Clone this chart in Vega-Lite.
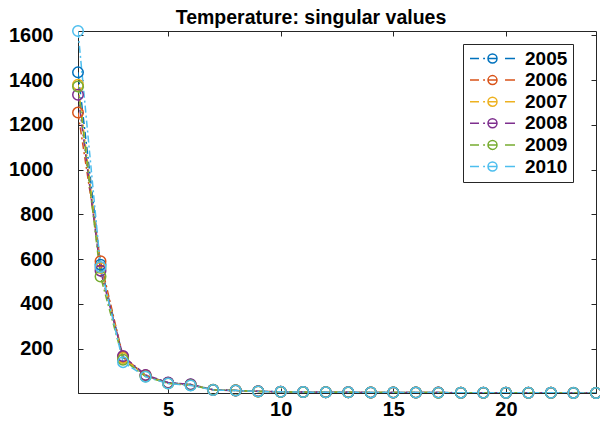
{
  "$schema": "https://vega.github.io/schema/vega-lite/v6.json",
  "width": 518,
  "height": 362,
  "autosize": {"type": "none"},
  "padding": {"left": 78, "top": 31, "right": 4, "bottom": 30},
  "background": "white",
  "config": {
    "view": {"stroke": "#262626", "strokeWidth": 1},
    "font": "Liberation Sans",
    "axis": {
      "grid": false,
      "domainColor": "#262626",
      "domainWidth": 1,
      "tickColor": "#262626",
      "tickWidth": 1,
      "tickSize": -5,
      "labelFont": "Liberation Sans",
      "labelFontSize": 20,
      "labelFontWeight": "bold",
      "labelColor": "black",
      "title": null
    }
  },
  "title": {
    "text": "Temperature: singular values",
    "font": "Liberation Sans",
    "fontSize": 19.5,
    "fontWeight": "bold",
    "color": "black",
    "anchor": "middle",
    "dx": -26,
    "offset": 6,
    "dy": 27,
    "baseline": "alphabetic"
  },
  "data": {
    "values": [
      {"x":1,"year":"2005","v":1435},{"x":2,"year":"2005","v":575},{"x":3,"year":"2005","v":160},{"x":4,"year":"2005","v":79},{"x":5,"year":"2005","v":47},{"x":6,"year":"2005","v":39},{"x":7,"year":"2005","v":16},{"x":8,"year":"2005","v":13},{"x":9,"year":"2005","v":8.5},{"x":10,"year":"2005","v":6.5},{"x":11,"year":"2005","v":5.2},{"x":12,"year":"2005","v":4.5},{"x":13,"year":"2005","v":4.0},{"x":14,"year":"2005","v":3.6},{"x":15,"year":"2005","v":3.3},{"x":16,"year":"2005","v":3.0},{"x":17,"year":"2005","v":2.8},{"x":18,"year":"2005","v":2.6},{"x":19,"year":"2005","v":2.4},{"x":20,"year":"2005","v":2.2},{"x":21,"year":"2005","v":2.0},{"x":22,"year":"2005","v":1.8},{"x":23,"year":"2005","v":1.6},{"x":24,"year":"2005","v":1.3},
      {"x":1,"year":"2006","v":1255},{"x":2,"year":"2006","v":590},{"x":3,"year":"2006","v":163},{"x":4,"year":"2006","v":80},{"x":5,"year":"2006","v":46},{"x":6,"year":"2006","v":38},{"x":7,"year":"2006","v":15},{"x":8,"year":"2006","v":12},{"x":9,"year":"2006","v":8.0},{"x":10,"year":"2006","v":6.2},{"x":11,"year":"2006","v":5.0},{"x":12,"year":"2006","v":4.4},{"x":13,"year":"2006","v":3.9},{"x":14,"year":"2006","v":3.5},{"x":15,"year":"2006","v":3.2},{"x":16,"year":"2006","v":2.9},{"x":17,"year":"2006","v":2.7},{"x":18,"year":"2006","v":2.5},{"x":19,"year":"2006","v":2.3},{"x":20,"year":"2006","v":2.1},{"x":21,"year":"2006","v":1.9},{"x":22,"year":"2006","v":1.7},{"x":23,"year":"2006","v":1.5},{"x":24,"year":"2006","v":1.2},
      {"x":1,"year":"2007","v":1380},{"x":2,"year":"2007","v":560},{"x":3,"year":"2007","v":158},{"x":4,"year":"2007","v":77},{"x":5,"year":"2007","v":45},{"x":6,"year":"2007","v":37},{"x":7,"year":"2007","v":16},{"x":8,"year":"2007","v":13},{"x":9,"year":"2007","v":8.2},{"x":10,"year":"2007","v":6.4},{"x":11,"year":"2007","v":5.1},{"x":12,"year":"2007","v":4.5},{"x":13,"year":"2007","v":4.0},{"x":14,"year":"2007","v":3.6},{"x":15,"year":"2007","v":3.2},{"x":16,"year":"2007","v":3.0},{"x":17,"year":"2007","v":2.8},{"x":18,"year":"2007","v":2.6},{"x":19,"year":"2007","v":2.3},{"x":20,"year":"2007","v":2.1},{"x":21,"year":"2007","v":1.9},{"x":22,"year":"2007","v":1.7},{"x":23,"year":"2007","v":1.5},{"x":24,"year":"2007","v":1.2},
      {"x":1,"year":"2008","v":1335},{"x":2,"year":"2008","v":548},{"x":3,"year":"2008","v":166},{"x":4,"year":"2008","v":82},{"x":5,"year":"2008","v":48},{"x":6,"year":"2008","v":40},{"x":7,"year":"2008","v":15},{"x":8,"year":"2008","v":12},{"x":9,"year":"2008","v":8.6},{"x":10,"year":"2008","v":6.6},{"x":11,"year":"2008","v":5.3},{"x":12,"year":"2008","v":4.6},{"x":13,"year":"2008","v":4.1},{"x":14,"year":"2008","v":3.7},{"x":15,"year":"2008","v":3.3},{"x":16,"year":"2008","v":3.0},{"x":17,"year":"2008","v":2.8},{"x":18,"year":"2008","v":2.5},{"x":19,"year":"2008","v":2.3},{"x":20,"year":"2008","v":2.1},{"x":21,"year":"2008","v":1.9},{"x":22,"year":"2008","v":1.7},{"x":23,"year":"2008","v":1.5},{"x":24,"year":"2008","v":1.3},
      {"x":1,"year":"2009","v":1372},{"x":2,"year":"2009","v":522},{"x":3,"year":"2009","v":150},{"x":4,"year":"2009","v":75},{"x":5,"year":"2009","v":44},{"x":6,"year":"2009","v":36},{"x":7,"year":"2009","v":15},{"x":8,"year":"2009","v":12},{"x":9,"year":"2009","v":7.8},{"x":10,"year":"2009","v":6.0},{"x":11,"year":"2009","v":4.9},{"x":12,"year":"2009","v":4.3},{"x":13,"year":"2009","v":3.8},{"x":14,"year":"2009","v":3.4},{"x":15,"year":"2009","v":3.1},{"x":16,"year":"2009","v":2.8},{"x":17,"year":"2009","v":2.6},{"x":18,"year":"2009","v":2.4},{"x":19,"year":"2009","v":2.2},{"x":20,"year":"2009","v":2.0},{"x":21,"year":"2009","v":1.8},{"x":22,"year":"2009","v":1.6},{"x":23,"year":"2009","v":1.4},{"x":24,"year":"2009","v":1.1},
      {"x":1,"year":"2010","v":1620},{"x":2,"year":"2010","v":565},{"x":3,"year":"2010","v":139},{"x":4,"year":"2010","v":74},{"x":5,"year":"2010","v":43},{"x":6,"year":"2010","v":35},{"x":7,"year":"2010","v":14},{"x":8,"year":"2010","v":12},{"x":9,"year":"2010","v":8.0},{"x":10,"year":"2010","v":6.1},{"x":11,"year":"2010","v":5.0},{"x":12,"year":"2010","v":4.4},{"x":13,"year":"2010","v":3.9},{"x":14,"year":"2010","v":3.5},{"x":15,"year":"2010","v":3.1},{"x":16,"year":"2010","v":2.9},{"x":17,"year":"2010","v":2.7},{"x":18,"year":"2010","v":2.5},{"x":19,"year":"2010","v":2.3},{"x":20,"year":"2010","v":2.1},{"x":21,"year":"2010","v":1.9},{"x":22,"year":"2010","v":1.7},{"x":23,"year":"2010","v":1.5},{"x":24,"year":"2010","v":1.0}
    ]
  },
  "encoding": {
    "x": {"field": "x", "type": "quantitative", "scale": {"domain": [1, 24], "nice": false, "zero": false}},
    "y": {"field": "v", "type": "quantitative", "scale": {"domain": [1, 1620], "nice": false, "zero": false}},
    "color": {
      "field": "year",
      "type": "nominal",
      "scale": {"domain": ["2005","2006","2007","2008","2009","2010"], "range": ["#0072BD","#D95319","#EDB120","#7E2F8E","#77AC30","#4DBEEE"]},
      "legend": {
        "title": null,
        "orient": "none",
        "legendX": 385,
        "legendY": 13,
        "strokeColor": "#262626",
        "fillColor": "white",
        "padding": 5,
        "symbolType": "M-1,0H0.2M0.75,0H1M1.4,0H2.6M2.6,0A0.6,0.6 0 1,1 1.4,0A0.6,0.6 0 1,1 2.6,0M3.67,0H5",
        "symbolSize": 225,
        "symbolStrokeWidth": 1.5,
        "symbolFillColor": "transparent",
        "labelFont": "Liberation Sans",
        "labelFontSize": 19,
        "labelFontWeight": "bold",
        "labelColor": "black",
        "labelOffset": 38,
        "labelExpr": "datum.label + '  '",
        "rowPadding": 1.6
      }
    }
  },
  "layer": [
    {
      "mark": {"type": "line", "strokeWidth": 1.5, "strokeDash": [7, 3, 2, 3], "clip": true},
      "encoding": {
        "x": {"field": "x", "type": "quantitative", "axis": {"orient": "bottom", "values": [5, 10, 15, 20], "labelPadding": 11, "format": "d"}},
        "y": {"field": "v", "type": "quantitative", "axis": {"orient": "left", "values": [200, 400, 600, 800, 1000, 1200, 1400, 1600], "labelPadding": 30, "format": "d"}}
      }
    },
    {
      "mark": {"type": "point", "shape": "circle", "filled": false, "size": 110, "strokeWidth": 1.5, "opacity": 1},
      "encoding": {
        "x": {"field": "x", "type": "quantitative", "axis": {"orient": "top", "values": [5, 10, 15, 20], "labels": false, "domain": false}},
        "y": {"field": "v", "type": "quantitative", "axis": {"orient": "right", "values": [200, 400, 600, 800, 1000, 1200, 1400, 1600], "labels": false, "domain": false}}
      }
    }
  ],
  "resolve": {"axis": {"x": "independent", "y": "independent"}}
}
